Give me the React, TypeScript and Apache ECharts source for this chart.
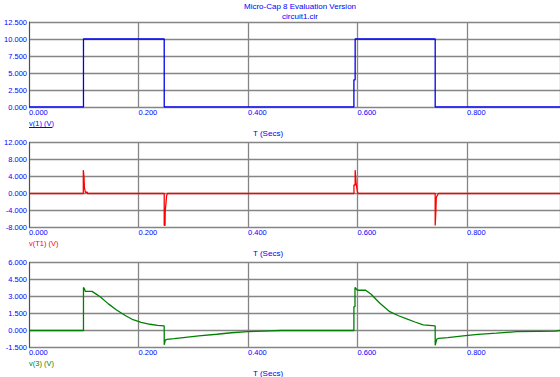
import React, { useEffect, useRef } from "react";
import * as echarts from "echarts";

const titleLines = ["Micro-Cap 8 Evaluation Version", "circuit1.cir"];
const xAxisName = "T (Secs)";
const traceNames = ["v(1) (V)", "v(T1) (V)", "v(3) (V)"];

const xTicks = { min: 0, max: 0.97, interval: 0.2 };
const yRanges = [
  { min: 0, max: 12.5, interval: 2.5 },
  { min: -8, max: 12, interval: 4 },
  { min: -1.5, max: 6, interval: 1.5 },
];

const t1 = [0, 0.0995, 0.0995, 0.247, 0.247, 0.5935, 0.5935, 0.5958, 0.5958, 0.742, 0.742, 0.97];
const v1 = [0, 0, 10, 10, 0, 0, 4, 4, 10, 10, 0, 0];

const t2 = [0, 0.0992, 0.0992, 0.1002, 0.1004, 0.1012, 0.103, 0.1065, 0.107, 0.247, 0.247, 0.2485, 0.2488, 0.2515, 0.253,
  0.5936, 0.5936, 0.5958, 0.5958, 0.5968, 0.5975, 0.5997, 0.601, 0.742, 0.742, 0.7428, 0.7432, 0.744, 0.746, 0.748, 0.97];
const v2 = [0, 0, 5.5, 5.5, 4.0, 1.4, 0.3, 0.3, 0, 0, -7.5, -7.5, -4.3, -0.4, 0,
  0, 2.0, 2.0, 5.5, 5.5, 2.5, 0.5, 0, 0, -7.5, -7.5, -4.3, -1.0, -0.4, 0, 0];

const t3 = [0, 0.0995, 0.0995, 0.101, 0.103, 0.115, 0.12, 0.13, 0.145, 0.16, 0.175, 0.19, 0.205, 0.221, 0.235, 0.247,
  0.247, 0.249, 0.252, 0.265, 0.282, 0.31, 0.343, 0.37, 0.399, 0.43, 0.46, 0.5935,
  0.5935, 0.5955, 0.5955, 0.6, 0.615, 0.625, 0.641, 0.659, 0.675, 0.69, 0.705, 0.72, 0.742,
  0.742, 0.745, 0.748, 0.765, 0.793, 0.82, 0.854, 0.891, 0.93, 0.962, 0.962, 0.97];
const v3 = [0, 0, 3.8, 3.7, 3.45, 3.45, 3.3, 2.98, 2.35, 1.81, 1.35, 0.95, 0.72, 0.55, 0.45, 0.4,
  -1.26, -0.85, -0.78, -0.72, -0.62, -0.47, -0.33, -0.2, -0.1, -0.05, 0, 0,
  2.1, 2.1, 3.8, 3.55, 3.55, 3.2, 2.4, 1.66, 1.3, 1.02, 0.75, 0.5, 0.4,
  -1.3, -0.75, -0.7, -0.62, -0.47, -0.35, -0.24, -0.1, -0.07, -0.05, 0, 0];

const traceColors = ["#0000ee", "#ff0000", "#008000"];
const labelColors = ["#0000ff", "#ff0000", "#008000"];

const FONT = "Liberation Sans";
const BLUE = "#0000ff";

function pairs(t: number[], v: number[]) {
  return t.map((x, i) => [x, v[i]]);
}

export default function App() {
  const ref = useRef<HTMLDivElement>(null);
  useEffect(() => {
    if (!ref.current) return;
    const chart = echarts.init(ref.current, null, { renderer: "svg" });
    const grids = [
      { left: 29, top: 22, width: 531, height: 85 },
      { left: 29, top: 142.5, width: 531, height: 85 },
      { left: 29, top: 262.5, width: 531, height: 85 },
    ];
    const data = [pairs(t1, v1), pairs(t2, v2), pairs(t3, v3)];
    const option: any = {
      animation: false,
      backgroundColor: "#ffffff",
      grid: grids,
      xAxis: grids.map((_, i) => ({
        type: "value",
        gridIndex: i,
        min: xTicks.min,
        max: xTicks.max,
        interval: xTicks.interval,
        axisLine: { show: false },
        axisTick: { show: false },
        splitLine: { show: true, lineStyle: { color: "#858585", width: 1.3 } },
        axisLabel: {
          color: BLUE,
          fontFamily: FONT,
          fontSize: 7.5,
          align: "left",
          margin: 1,
          showMaxLabel: false,
          formatter: (v: number) => v.toFixed(3),
        },
      })),
      yAxis: grids.map((_, i) => ({
        type: "value",
        gridIndex: i,
        min: yRanges[i].min,
        max: yRanges[i].max,
        interval: yRanges[i].interval,
        axisLine: { show: true, lineStyle: { color: "#505050", width: 1 } },
        axisTick: { show: false },
        splitLine: { show: true, lineStyle: { color: "#858585", width: 1.3 } },
        axisLabel: {
          color: BLUE,
          fontFamily: FONT,
          fontSize: 7.5,
          margin: 2,
          formatter: (v: number) => v.toFixed(3),
        },
      })),
      series: data.map((d, i) => ({
        type: "line",
        xAxisIndex: i,
        yAxisIndex: i,
        data: d,
        showSymbol: false,
        symbol: "none",
        lineStyle: { color: traceColors[i], width: 1.3 },
        z: 5,
      })),
      graphic: [
        ...titleLines.map((s, i) => ({
          type: "text",
          x: 300,
          y: 6 + i * 10,
          style: { text: s, fill: BLUE, font: `8px "${FONT}"`, textAlign: "center", textVerticalAlign: "middle" },
        })),
        ...grids.map((g, i) => ({
          type: "text",
          x: 29,
          y: g.top + g.height + 16,
          style: { text: traceNames[i], fill: labelColors[i], font: `7.5px "${FONT}"`, textVerticalAlign: "middle" },
        })),
        {
          type: "line",
          shape: { x1: 29, y1: 127.5, x2: 52, y2: 127.5 },
          style: { stroke: BLUE, lineWidth: 1 },
        },
        ...grids.map((g) => ({
          type: "text",
          x: 268,
          y: g.top + g.height + 26,
          style: { text: xAxisName, fill: BLUE, font: `8px "${FONT}"`, textAlign: "center", textVerticalAlign: "middle" },
        })),
      ],
    };
    chart.setOption(option);
    return () => chart.dispose();
  }, []);
  return (
    <div
      ref={ref}
      style={{ position: "absolute", left: 0, top: 0, width: 560, height: 377, background: "#fff" }}
    />
  );
}
